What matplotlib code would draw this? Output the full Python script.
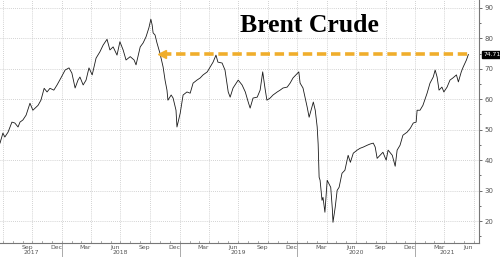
import numpy as np
import pandas as pd
import matplotlib
matplotlib.use("Agg")
import matplotlib.pyplot as plt
import matplotlib.dates as mdates

# Brent crude (USD/bbl)
dates = [
    "2017-06-23", "2017-07-02", "2017-07-08", "2017-07-18", "2017-07-30", "2017-08-08",
    "2017-08-18", "2017-08-24", "2017-09-02", "2017-09-12", "2017-09-24", "2017-10-03",
    "2017-10-19", "2017-10-28", "2017-11-07", "2017-11-16", "2017-11-25", "2017-12-07",
    "2017-12-17", "2017-12-29", "2018-01-11", "2018-01-23", "2018-02-01", "2018-02-11",
    "2018-02-20", "2018-02-26", "2018-03-08", "2018-03-17", "2018-03-26", "2018-04-05",
    "2018-04-17", "2018-04-29", "2018-05-09", "2018-05-21", "2018-05-30", "2018-06-09",
    "2018-06-21", "2018-06-30", "2018-07-10", "2018-07-19", "2018-08-01", "2018-08-13",
    "2018-08-19", "2018-09-01", "2018-09-10", "2018-09-19", "2018-09-28", "2018-10-04",
    "2018-10-08", "2018-10-11", "2018-10-17", "2018-10-23", "2018-11-01", "2018-11-11",
    "2018-11-17", "2018-11-23", "2018-11-26", "2018-12-06", "2018-12-12", "2018-12-21",
    "2018-12-24", "2019-01-03", "2019-01-12", "2019-01-24", "2019-02-03", "2019-02-12",
    "2019-02-24", "2019-03-06", "2019-03-15", "2019-03-28", "2019-04-06", "2019-04-15",
    "2019-04-24", "2019-04-30", "2019-05-13", "2019-05-22", "2019-06-01", "2019-06-07",
    "2019-06-16", "2019-07-02", "2019-07-14", "2019-07-24", "2019-08-02", "2019-08-08",
    "2019-08-17", "2019-08-30", "2019-09-08", "2019-09-16", "2019-09-23", "2019-09-29",
    "2019-10-09", "2019-10-18", "2019-10-31", "2019-11-09", "2019-11-18", "2019-12-01",
    "2019-12-10", "2019-12-19", "2020-01-06", "2020-01-10", "2020-01-19", "2020-02-01",
    "2020-02-07", "2020-02-20", "2020-02-26", "2020-03-03", "2020-03-06", "2020-03-09",
    "2020-03-12", "2020-03-18", "2020-03-21", "2020-03-27", "2020-04-03", "2020-04-14",
    "2020-04-19", "2020-04-21", "2020-04-28", "2020-05-04", "2020-05-10", "2020-05-19",
    "2020-05-28", "2020-06-07", "2020-06-14", "2020-06-23", "2020-07-05", "2020-07-14",
    "2020-07-24", "2020-08-05", "2020-08-14", "2020-08-24", "2020-08-30", "2020-09-05",
    "2020-09-14", "2020-09-23", "2020-10-03", "2020-10-09", "2020-10-22", "2020-10-31",
    "2020-11-06", "2020-11-15", "2020-11-24", "2020-12-07", "2020-12-17", "2020-12-26",
    "2021-01-04", "2021-01-07", "2021-01-16", "2021-01-25", "2021-02-07", "2021-02-16",
    "2021-02-26", "2021-03-04", "2021-03-10", "2021-03-16", "2021-03-25", "2021-03-31",
    "2021-04-10", "2021-04-19", "2021-04-28", "2021-05-09", "2021-05-15", "2021-05-24",
    "2021-05-30", "2021-06-09", "2021-06-15",
]
prices = [
    45.6, 48.9, 47.6, 49.2, 52.5, 52.2,
    50.9, 52.5, 53.2, 54.8, 58.7, 56.4,
    58.0, 59.7, 63.6, 62.4, 63.6, 63.0,
    64.7, 67.0, 69.6, 70.3, 68.6, 63.7,
    66.3, 67.3, 64.7, 66.3, 70.3, 68.0,
    73.5, 75.6, 77.8, 79.7, 76.2, 77.2,
    74.5, 78.9, 76.2, 72.9, 74.0, 72.9,
    71.3, 77.2, 78.5, 80.5, 83.5, 86.3,
    84.4, 81.8, 81.1, 78.5, 75.2, 70.6,
    66.3, 63.0, 59.7, 61.4, 60.4, 56.4,
    50.9, 55.4, 61.4, 62.4, 62.0, 65.3,
    66.3, 67.0, 68.0, 69.0, 70.6, 72.2,
    74.5, 72.2, 71.9, 69.6, 62.4, 60.7,
    63.7, 66.3, 64.7, 62.4, 59.1, 57.1,
    60.4, 60.7, 63.0, 69.0, 63.7, 59.7,
    60.4, 61.4, 62.4, 63.0, 63.7, 64.0,
    65.3, 67.0, 69.0, 65.3, 63.7, 57.4,
    54.1, 59.1, 56.4, 50.9, 45.3, 34.4,
    33.4, 26.8, 27.8, 22.9, 33.4, 31.1,
    24.0, 19.6, 24.6, 30.1, 31.1, 35.7,
    36.7, 41.6, 39.3, 42.3, 43.3, 43.9,
    44.3, 44.9, 45.3, 45.6, 44.3, 40.6,
    41.6, 42.6, 40.0, 43.3, 41.6, 38.0,
    43.3, 44.9, 48.2, 49.2, 50.5, 52.2,
    52.5, 56.4, 56.4, 58.0, 62.0, 65.3,
    67.3, 69.6, 67.3, 63.0, 64.0, 62.4,
    64.0, 66.3, 67.0, 68.0, 65.7, 69.0,
    70.6, 72.9, 74.71,
]

last_price = 74.71
ref_start = "2018-11-08"
ref_end = "2021-06-20"

y_ticks = [20, 30, 40, 50, 60, 70, 80, 90]
month_labels = pd.date_range("2017-09-01", "2021-06-01", freq="3MS")
years = [2017, 2018, 2019, 2020, 2021]
x_start, x_end = "2017-06-23", "2021-07-18"
y_lo, y_hi = 12.8, 92.6

s = pd.Series(prices, index=pd.to_datetime(dates))

fig = plt.figure(figsize=(5.0, 2.57), dpi=100)
ax = fig.add_axes([0.0, 14 / 257, 479 / 500, 1 - 14 / 257])

grid_col = "#c4c4c4"
ax.plot(s.index, s.values, color="#1a1a1a", lw=0.6, zorder=3)

# orange dashed reference line with arrow head on the left
ax.plot(pd.to_datetime([ref_start, ref_end]), [last_price, last_price],
        color="#f0ae2c", lw=2.6, dashes=(2.6, 1.3), solid_capstyle="butt", zorder=4)
ax.plot(pd.to_datetime([ref_start]), [last_price], marker="<", ms=5.5,
        color="#f0ae2c", mec="#f0ae2c", zorder=4)

ax.set_xlim(pd.Timestamp(x_start), pd.Timestamp(x_end))
ax.set_ylim(y_lo, y_hi)

# grid: quarter starts and every 10
ax.xaxis.set_major_locator(mdates.MonthLocator(bymonth=[1, 4, 7, 10]))
ax.xaxis.set_major_formatter(plt.NullFormatter())
ax.tick_params(axis="x", which="both", length=0)
ax.grid(axis="x", which="major", color=grid_col, lw=0.6, ls=(0, (1, 1.5)))
ax.set_yticks(y_ticks)
ax.grid(axis="y", color=grid_col, lw=0.6, ls=(0, (1, 1.5)))

ax.yaxis.tick_right()
ax.tick_params(axis="y", which="both", length=2.5, width=0.6, colors="#555555",
               labelsize=5, pad=1.5, direction="out")
ax.set_yticks([15, 25, 35, 45, 55, 65, 75, 85], minor=True)
ax.tick_params(axis="y", which="minor", length=1.5)

for side in ["top", "left"]:
    ax.spines[side].set_visible(False)
for side in ["bottom", "right"]:
    ax.spines[side].set_color("#777777")
    ax.spines[side].set_linewidth(0.8)

# small monthly ticks on the x axis
for m in pd.date_range("2017-07-01", "2021-07-01", freq="MS"):
    ax.plot([m, m], [y_lo, y_lo + 0.6], color="#888888", lw=0.5, clip_on=False, zorder=2)

# month and year labels under the axis
for m in month_labels:
    ax.annotate(m.strftime("%b"), xy=(m + pd.Timedelta(days=14), 0),
                xycoords=("data", "axes fraction"), xytext=(0, -3.0),
                textcoords="offset points", ha="center", va="center",
                fontsize=4.4, color="#555555", annotation_clip=False)
xl0, xl1 = pd.Timestamp(x_start), pd.Timestamp(x_end)
for yr in years:
    a = max(pd.Timestamp(f"{yr}-01-01"), xl0)
    b = min(pd.Timestamp(f"{yr + 1}-01-01"), xl1)
    ax.annotate(str(yr), xy=(a + (b - a) / 2, 0),
                xycoords=("data", "axes fraction"), xytext=(0, -7.0),
                textcoords="offset points", ha="center", va="center",
                fontsize=4.4, color="#555555", annotation_clip=False)
    if yr > 2017:
        ax.plot([a, a], [0, -0.06], transform=ax.get_xaxis_transform(),
                color="#888888", lw=0.5, clip_on=False)

# last value box
ax.text(1.009, (last_price - y_lo) / (y_hi - y_lo), f"{last_price:.2f}",
        transform=ax.transAxes, ha="left", va="center", fontsize=4.3, color="white",
        bbox=dict(boxstyle="square,pad=0.2", fc="black", ec="black"))

ax.text(0.645, 0.895, "Brent Crude", transform=ax.transAxes, ha="center", va="center",
        fontsize=18.5, fontweight="bold", family="Liberation Serif", color="black")

fig.savefig("out.png", dpi=100)
